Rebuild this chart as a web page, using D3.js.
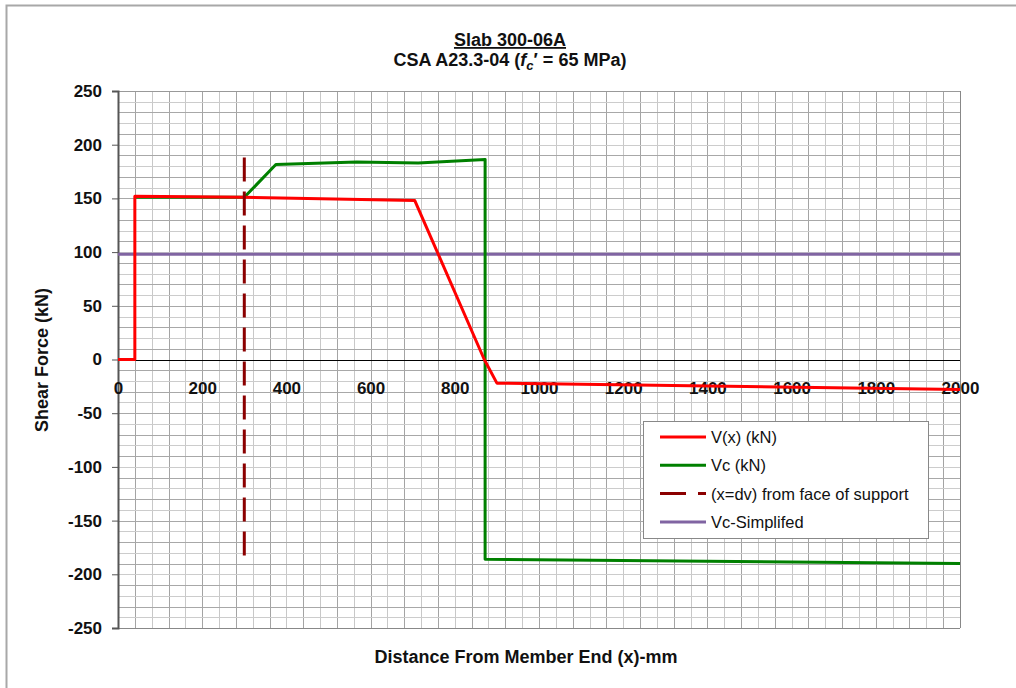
<!DOCTYPE html>
<html><head><meta charset="utf-8">
<script src="https://cdn.jsdelivr.net/npm/d3@7"></script>
<style>body{margin:0;background:#fff}svg{display:block}text{font-family:"Liberation Sans",Arial,sans-serif}</style>
</head><body><svg id="c" width="1016" height="688"></svg>
<script>
// Data
const vxX = [0, 40, 40, 300, 705, 870, 900, 2000];
const vxY = [0, 0, 152, 151, 148, 0, -22, -28];
const vcX = [40, 300, 375, 567, 713, 872, 872, 2000];
const vcY = [151, 151, 181.5, 183.8, 182.9, 186.3, -186, -190];
const dvX = [300, 300];
const dvY = [188, -191];
const simpX = [0, 2000];
const simpY = [98, 98];
const xTicks = [0, 200, 400, 600, 800, 1000, 1200, 1400, 1600, 1800, 2000];
const yTicks = [250, 200, 150, 100, 50, 0, -50, -100, -150, -200, -250];
const legendLabels = ["V(x) (kN)", "Vc (kN)", "(x=dv) from face of support", "Vc-Simplifed"];

const svg = d3.select("#c");
const L = 118, T = 91, W = 842, H = 537;
const x = d3.scaleLinear().domain([0, 2000]).range([L, L + W]);
const y = d3.scaleLinear().domain([-250, 250]).range([T + H, T]);
const FONT = "Liberation Sans, Arial, sans-serif";

// outer frame
svg.append("rect").attr("x", 6.5).attr("y", 5.5).attr("width", 1030).attr("height", 700)
  .attr("fill", "none").attr("stroke", "#a8a8a8").attr("stroke-width", 2);

// grid
const g = svg.append("g");
g.selectAll(".vg").data(d3.range(40, 2000, 40)).join("line")
  .attr("x1", d => Math.round(x(d)) + 0.5).attr("x2", d => Math.round(x(d)) + 0.5)
  .attr("y1", T).attr("y2", T + H)
  .attr("stroke", (d, i) => i % 2 ? "#c8c8c8" : "#a4a4a4").attr("stroke-width", 1);
g.selectAll(".hg").data(d3.range(-240, 250, 10)).join("line")
  .attr("y1", d => Math.round(y(d)) + 0.5).attr("y2", d => Math.round(y(d)) + 0.5)
  .attr("x1", L).attr("x2", L + W)
  .attr("stroke", (d, i) => i % 2 ? "#a8a8a8" : "#cccccc").attr("stroke-width", 1);
// borders
g.append("line").attr("x1", L).attr("x2", L + W).attr("y1", T + 0.5).attr("y2", T + 0.5).attr("stroke", "#999");
g.append("line").attr("x1", L + W + 0.5).attr("x2", L + W + 0.5).attr("y1", T).attr("y2", T + H).attr("stroke", "#888");
g.append("line").attr("x1", L).attr("x2", L + W).attr("y1", T + H + 0.5).attr("y2", T + H + 0.5).attr("stroke", "#888");

// zero line
svg.append("line").attr("x1", L).attr("x2", L + W).attr("y1", Math.round(y(0)) + 0.5).attr("y2", Math.round(y(0)) + 0.5)
  .attr("stroke", "#000").attr("stroke-width", 1);

// y axis
const ya = d3.axisLeft(y).tickValues(yTicks).tickSize(6).tickPadding(10).tickFormat(d => String(d));
const yg = svg.append("g").attr("transform", `translate(${L},0)`).call(ya);
yg.select(".domain").attr("stroke", "#555").attr("stroke-width", 2);
yg.selectAll(".tick line").attr("stroke", "#555");
yg.selectAll("text").attr("font-size", 17).attr("font-weight", "bold").attr("fill", "#111").attr("font-family", FONT);

// x tick labels at zero line
const xa = d3.axisBottom(x).tickValues(xTicks).tickSize(0).tickPadding(22).tickFormat(d => String(d));
const xg = svg.append("g").attr("transform", `translate(0,${y(0)})`).call(xa);
xg.select(".domain").remove();
xg.selectAll("text").attr("font-size", 17).attr("font-weight", "bold").attr("fill", "#111").attr("font-family", FONT);

// series
const line = d3.line().x(d => x(d[0])).y(d => y(d[1]));
const simp = simpX.map((v, i) => [v, simpY[i]]);
const vx = vxX.map((v, i) => [v, vxY[i]]);
const vc = vcX.map((v, i) => [v, vcY[i]]);
const dv = dvX.map((v, i) => [v, dvY[i]]);
svg.append("path").datum(simp).attr("d", line).attr("fill", "none").attr("stroke", "#8064a2").attr("stroke-width", 3);
svg.append("path").datum(vc).attr("d", line).attr("fill", "none").attr("stroke", "#008000").attr("stroke-width", 3).attr("stroke-linejoin", "round");
svg.append("path").datum(vx).attr("d", line).attr("fill", "none").attr("stroke", "#ff0000").attr("stroke-width", 3).attr("stroke-linejoin", "round");
svg.append("path").datum(dv).attr("d", line).attr("fill", "none").attr("stroke", "#8b0000").attr("stroke-width", 3)
  .attr("stroke-dasharray", "24,10");

// titles
svg.append("text").attr("x", 510).attr("y", 46).attr("text-anchor", "middle")
  .attr("font-size", 18).attr("font-weight", "bold").attr("fill", "#111").attr("text-decoration", "underline").text("Slab 300-06A");
const t2 = svg.append("text").attr("x", 510).attr("y", 66).attr("text-anchor", "middle")
  .attr("font-size", 18).attr("font-weight", "bold").attr("fill", "#111");
t2.append("tspan").text("CSA A23.3-04 (");
t2.append("tspan").attr("font-style", "italic").text("f");
t2.append("tspan").attr("font-style", "italic").attr("font-size", 13).attr("dy", 4).text("c");
t2.append("tspan").attr("dy", -4).text("\u2032 = 65 MPa)");

svg.append("text").attr("transform", "translate(48,360) rotate(-90)").attr("text-anchor", "middle")
  .attr("font-size", 18).attr("font-weight", "bold").attr("fill", "#111").text("Shear Force (kN)");
svg.append("text").attr("x", 526).attr("y", 663).attr("text-anchor", "middle")
  .attr("font-size", 18).attr("font-weight", "bold").attr("fill", "#111").text("Distance From Member End (x)-mm");

// legend
const lg = svg.append("g");
lg.append("rect").attr("x", 643.5).attr("y", 421.5).attr("width", 285).attr("height", 117)
  .attr("fill", "#fff").attr("stroke", "#888");
const lstyles = [
  {c: "#ff0000", d: null}, {c: "#008000", d: null}, {c: "#8b0000", d: "26,12"}, {c: "#8064a2", d: null}
];
legendLabels.forEach((lab, i) => {
  const yy = 437 + i * 28.3;
  lg.append("line").attr("x1", 660).attr("x2", 706).attr("y1", yy).attr("y2", yy)
    .attr("stroke", lstyles[i].c).attr("stroke-width", 3).attr("stroke-dasharray", lstyles[i].d);
  lg.append("text").attr("x", 711).attr("y", yy + 6).attr("font-size", 16.5).attr("fill", "#111").text(lab);
});
</script></body></html>
